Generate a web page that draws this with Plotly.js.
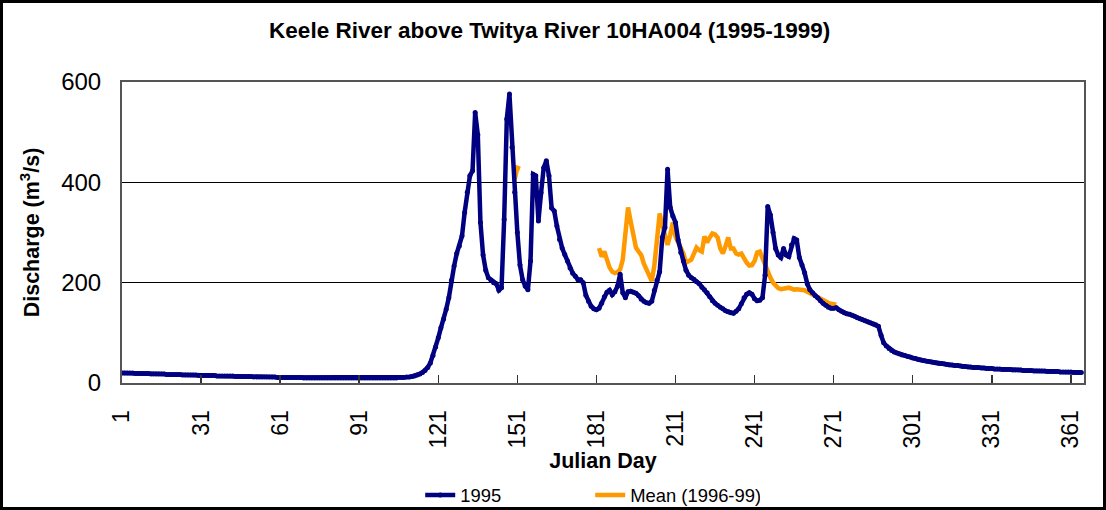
<!DOCTYPE html>
<html>
<head>
<meta charset="utf-8">
<script src="https://cdn.plot.ly/plotly-3.0.1.min.js"></script>
<style>
  html, body { margin: 0; padding: 0; background: #ffffff; }
  #wrap { position: relative; width: 1106px; height: 510px; }
  #chart { width: 1106px; height: 510px; }
  #frame { position: absolute; left: 0; top: 0; width: 1106px; height: 510px; box-sizing: border-box; border: 3px solid #000; pointer-events: none; }
</style>
</head>
<body>
<div id="wrap"><div id="chart"></div><div id="frame"></div></div>
<script>
// Daily discharge 1995 (m3/s), days 1..365
const q1995 = [
  20,20,20,20,20,19,19,19,19,19,
  19,18,18,18,18,18,18,17,17,17,
  17,17,17,16,16,16,16,16,16,15,
  15,15,15,15,15,15,14,14,14,14,
  14,14,14,13,13,13,13,13,13,13,
  12,12,12,12,12,12,12,12,12,11,
  11,11,11,11,11,11,11,11,11,10,
  10,10,10,10,10,10,10,10,10,10,
  10,10,10,10,10,10,10,10,10,10,
  10,10,10,10,10,10,10,10,10,10,
  10,10,10,10,10,11,11,11,12,12,
  13,14,16,18,21,25,31,40,55,72,
  90,110,127,147,170,205,233,258,273,293,
  340,380,413,423,539,495,320,255,225,210,
  205,200,198,185,190,326,526,576,470,380,
  300,235,206,193,186,243,416,413,323,379,
  429,443,413,349,343,313,286,269,256,243,
  229,219,213,206,206,200,175,163,153,148,
  146,149,159,172,181,185,176,182,193,217,
  180,170,182,183,181,179,174,167,163,160,
  159,163,185,205,222,290,310,426,350,333,
  320,285,260,243,225,215,210,207,202,198,
  191,186,180,172,164,159,155,151,148,144,
  142,140,139,143,148,158,170,177,180,177,
  168,164,165,170,215,352,335,300,268,255,
  250,268,255,252,275,288,285,250,235,220,
  198,186,180,174,170,164,159,155,151,149,
  149,150,146,143,140,138,137,135,133,130,
  128,126,124,122,120,118,116,113,95,80,
  74,69,65,62,60,58,56,55,53,52,
  50,49,47,46,45,44,43,42,41,40,
  39,39,38,37,36,36,35,35,34,33,
  33,32,32,31,31,31,30,30,29,29,
  29,28,28,28,27,27,27,27,26,26,
  26,26,25,25,25,25,24,24,24,24,
  24,23,23,23,23,23,22,22,22,22,
  22,21,21,21,21
];

// Mean (1996-99): two segments of available data
const meanStartA = 150;
const meanSegA = [406, 429, 427];
const meanStartB = 182;
const meanSegB = [
  269,252,262,245,230,222,219,221,226,246,
  310,350,322,295,270,262,255,238,225,212,
  203,235,290,338,315,290,275,295,320,292,
  280,268,258,240,243,246,258,270,265,262,
  292,280,290,298,296,290,268,258,273,290,
  268,268,258,256,258,248,240,234,235,243,
  260,262,248,235,222,210,200,193,189,187,
  188,189,190,188,186,187,187,186,185,182,
  179,176,174,172,169,166,163,160,158,157,
  156
];

const xTicks = [1, 31, 61, 91, 121, 151, 181, 211, 241, 271, 301, 331, 361];
const yTicks = [0, 200, 400, 600];

const titleText = 'Keele River above Twitya River 10HA004 (1995-1999)';
const xTitle = 'Julian Day';
const yTitle = 'Discharge (m<sup>3</sup>/s)';
const name1995 = '1995';
const nameMean = 'Mean (1996-99)';

// build traces
const days1995 = q1995.map((_, i) => i + 1);
const meanX = [], meanY = [];
meanSegA.forEach((v, i) => { meanX.push(meanStartA + i); meanY.push(v); });
meanX.push(meanStartA + meanSegA.length); meanY.push(null);
meanSegB.forEach((v, i) => { meanX.push(meanStartB + i); meanY.push(v); });

const FONT = 'Liberation Sans, Arial, Helvetica, sans-serif';

const traces = [
  {
    x: meanX, y: meanY, name: nameMean, type: 'scatter', mode: 'lines',
    line: { color: '#FF9900', width: 4.5 }, connectgaps: false, legendrank: 2
  },
  {
    x: days1995, y: q1995, name: name1995, type: 'scatter', mode: 'lines+markers',
    line: { color: '#000080', width: 4.5 },
    marker: { color: '#000080', size: 5, symbol: 'circle' },
    legendrank: 1
  }
];

const layout = {
  width: 1106, height: 510,
  margin: { l: 122, r: 22, t: 82, b: 127, pad: 0, autoexpand: false },
  paper_bgcolor: '#ffffff', plot_bgcolor: '#ffffff',
  font: { family: FONT, color: '#000' },
  title: {
    text: titleText, xref: 'container', x: 0.497, xanchor: 'center',
    yref: 'container', y: 0.941, yanchor: 'middle',
    font: { family: FONT, size: 22.5, weight: 'bold', color: '#000' }
  },
  xaxis: {
    range: [1, 366], tickmode: 'array', tickvals: xTicks, ticktext: xTicks.map(String),
    tickangle: -90, ticks: 'inside', ticklen: 8, tickwidth: 1.5, tickcolor: '#333',
    showgrid: false, zeroline: false,
    showline: true, linecolor: '#555', linewidth: 2, mirror: true,
    tickfont: { family: FONT, size: 23, color: '#000' },
    ticklabelstandoff: 16,
    title: { text: xTitle, standoff: 4, font: { family: FONT, size: 21.5, weight: 'bold', color: '#000' } },
    automargin: false, fixedrange: true
  },
  yaxis: {
    range: [0, 600], tickmode: 'array', tickvals: yTicks,
    ticks: '', showgrid: true, gridcolor: '#000', gridwidth: 1,
    zeroline: false, showline: true, linecolor: '#555', linewidth: 2, mirror: true,
    tickfont: { family: FONT, size: 24, color: '#000' },
    ticklabelstandoff: 14,
    title: { text: yTitle, standoff: 16, font: { family: FONT, size: 21.5, weight: 'bold', color: '#000' } },
    automargin: false, fixedrange: true
  },
  showlegend: true,
  legend: {
    orientation: 'h', x: 0.31, xanchor: 'left', y: -0.372, yanchor: 'middle',
    font: { family: FONT, size: 18.4, color: '#000' },
    bgcolor: 'rgba(0,0,0,0)', entrywidth: 125, entrywidthmode: 'pixels',
    itemclick: false, itemdoubleclick: false
  }
};

Plotly.newPlot('chart', traces, layout, { displayModeBar: false, staticPlot: true });
</script>
</body>
</html>
